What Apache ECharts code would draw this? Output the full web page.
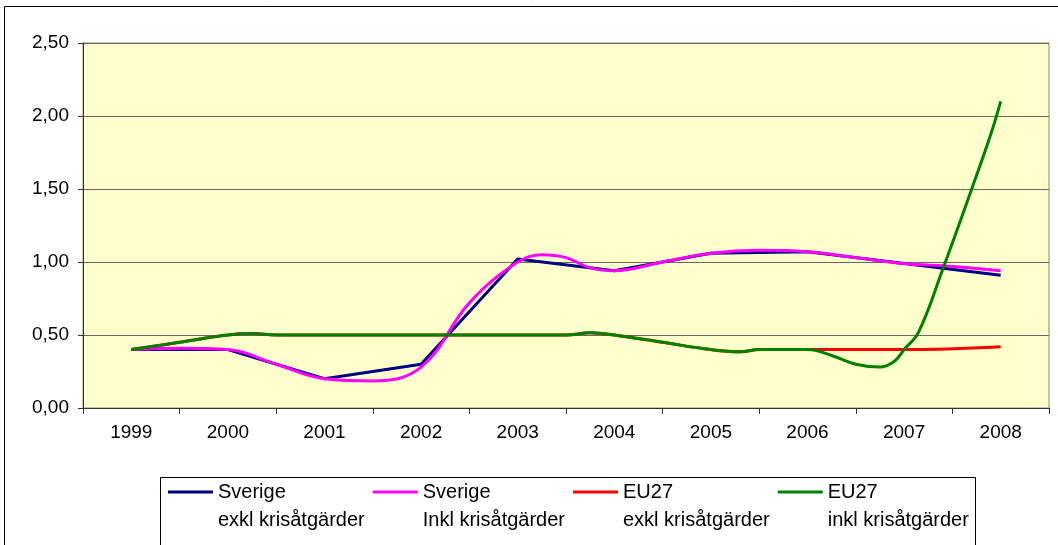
<!DOCTYPE html>
<html>
<head>
<meta charset="utf-8">
<script src="https://cdn.jsdelivr.net/npm/echarts@6/dist/echarts.min.js"></script>
<style>
  html, body { margin: 0; padding: 0; background: #fff; }
  #chart { width: 1058px; height: 545px; }
</style>
</head>
<body>
<div id="chart"></div>
<script>
var years = ["1999", "2000", "2001", "2002", "2003", "2004", "2005", "2006", "2007", "2008"];
var yTicks = [0, 0.5, 1, 1.5, 2, 2.5];

// Sverige exkl krisåtgärder (yearly)
var sverigeExklT = [1999, 2000, 2001, 2002, 2003, 2004, 2005, 2006, 2007, 2008];
var sverigeExklV = [0.40, 0.40, 0.20, 0.30, 1.02, 0.94, 1.06, 1.07, 0.99, 0.91];

// Sverige inkl krisåtgärder
var sverigeInklT = [1999, 1999.5, 2000, 2000.5, 2001, 2001.5, 2002, 2002.5, 2003, 2003.25, 2003.5, 2003.75, 2004, 2004.5, 2005, 2005.5, 2006, 2006.5, 2007, 2007.5, 2008];
var sverigeInklV = [0.40, 0.41, 0.40, 0.30, 0.20, 0.185, 0.28, 0.72, 1.00, 1.05, 1.03, 0.96, 0.94, 1.00, 1.06, 1.08, 1.07, 1.03, 0.99, 0.97, 0.94];

// EU27 exkl krisåtgärder
var eu27ExklT = [1999, 1999.5, 2000, 2000.25, 2000.5, 2001, 2002, 2003, 2003.5, 2003.75, 2004, 2004.5, 2005, 2005.3, 2005.5, 2006, 2007, 2008];
var eu27ExklV = [0.40, 0.45, 0.50, 0.51, 0.50, 0.50, 0.50, 0.50, 0.50, 0.515, 0.50, 0.45, 0.40, 0.385, 0.40, 0.40, 0.40, 0.42];

// EU27 inkl krisåtgärder
var eu27InklT = [1999, 1999.5, 2000, 2000.25, 2000.5, 2001, 2002, 2003, 2003.5, 2003.75, 2004, 2004.5, 2005, 2005.3, 2005.5, 2006, 2006.25, 2006.5, 2006.75, 2006.9, 2007, 2007.15, 2007.4, 2007.7, 2007.9, 2008];
var eu27InklV = [0.40, 0.45, 0.50, 0.51, 0.50, 0.50, 0.50, 0.50, 0.50, 0.515, 0.50, 0.45, 0.40, 0.385, 0.40, 0.40, 0.36, 0.30, 0.28, 0.32, 0.40, 0.52, 0.95, 1.50, 1.88, 2.10];

function pairs(t, v) {
  return t.map(function (x, i) { return [x, v[i]]; });
}

var font = "'Liberation Sans', Arial, sans-serif";
var chart = echarts.init(document.getElementById("chart"), null, { renderer: "canvas" });

function line(name, color, t, v, smooth) {
  return {
    name: name,
    type: "line",
    xAxisIndex: 1,
    data: pairs(t, v),
    smooth: smooth,
    showSymbol: false,
    symbol: "none",
    color: color,
    lineStyle: { color: color, width: 3 },
    itemStyle: { color: color, borderWidth: 0 },
    animation: false,
  };
}

chart.setOption({
  animation: false,
  textStyle: { fontFamily: font },
  grid: {
    left: 83,
    right: 9,
    top: 43,
    bottom: 137,
    show: true,
    backgroundColor: "#FFFFCC",
    borderColor: "#888",
    borderWidth: 1,
  },
  graphic: [
    {
      type: "rect",
      shape: { x: 4.5, y: 6.5, width: 1100, height: 600 },
      style: { fill: null, stroke: "#000", lineWidth: 1 },
      silent: true,
      z: -1,
    },
    {
      type: "rect",
      shape: { x: 160.5, y: 477.5, width: 815, height: 100 },
      style: { fill: null, stroke: "#000", lineWidth: 1 },
      silent: true,
    },
  ],
  legend: {
    left: 168,
    top: 478,
    padding: 0,
    itemGap: 8,
    itemWidth: 45,
    itemHeight: 31,
    icon: "path://M0,0H45V3H0Z M0,31L0,31",
    itemStyle: { borderWidth: 0 },
    textStyle: { fontSize: 20, lineHeight: 28, color: "#000", fontFamily: font },
    data: [
      "Sverige\nexkl krisåtgärder",
      "Sverige\nInkl krisåtgärder",
      "EU27\nexkl krisåtgärder",
      "EU27\ninkl krisåtgärder",
    ],
  },
  xAxis: [
    {
      type: "category",
      data: years,
      boundaryGap: true,
      axisLine: { lineStyle: { color: "#333", width: 1 } },
      axisTick: { show: true, length: 6, lineStyle: { color: "#333" } },
      axisLabel: { color: "#000", fontSize: 19, margin: 15, fontFamily: font },
      splitLine: { show: false },
    },
    {
      type: "value",
      min: 1998.5,
      max: 2008.5,
      show: false,
      splitLine: { show: false },
    },
  ],
  yAxis: {
    type: "value",
    min: yTicks[0],
    max: yTicks[yTicks.length - 1],
    interval: 0.5,
    axisLine: { show: true, lineStyle: { color: "#333", width: 1 } },
    axisTick: { show: true, length: 5, lineStyle: { color: "#333" } },
    axisLabel: {
      color: "#000",
      fontSize: 19,
      margin: 14,
      fontFamily: font,
      formatter: function (v) { return v.toFixed(2).replace(".", ","); },
    },
    splitLine: { show: true, lineStyle: { color: "#666", width: 1 } },
  },
  series: [
    line("Sverige\nexkl krisåtgärder", "#000080", sverigeExklT, sverigeExklV, false),
    line("Sverige\nInkl krisåtgärder", "#FF00FF", sverigeInklT, sverigeInklV, 0.4),
    line("EU27\nexkl krisåtgärder", "#FF0000", eu27ExklT, eu27ExklV, 0.4),
    line("EU27\ninkl krisåtgärder", "#008000", eu27InklT, eu27InklV, 0.4),
  ],
});
</script>
</body>
</html>
